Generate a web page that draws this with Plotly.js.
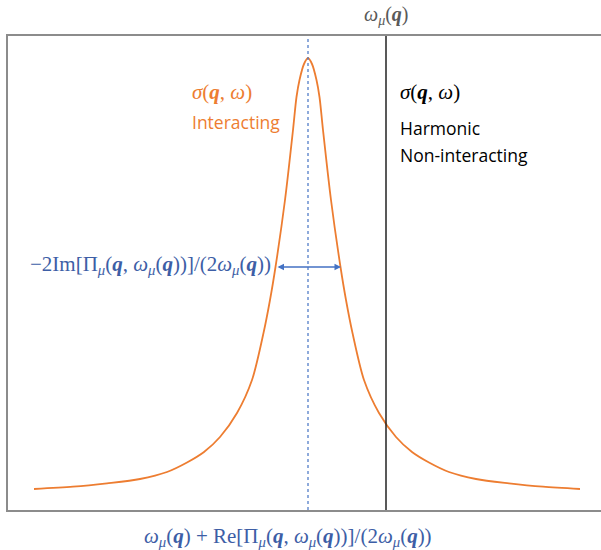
<!DOCTYPE html>
<html>
<head>
<meta charset="utf-8">
<script src="https://cdn.plot.ly/plotly-3.0.1.min.js"></script>
<style>html,body{margin:0;padding:0;background:#fff;}#chart{width:601px;height:550px;}</style>
</head>
<body>
<div id="chart"></div>
<script>
// Interacting spectral function sigma(q, w)
const freq = [26, 65, 99, 132, 159, 179, 196, 212, 229, 244, 255.5, 262, 267.5, 277, 285, 288.5, 291.5, 296, 300,
              304, 308.5, 311.5, 315, 323, 332.5, 338, 344.5, 356, 371, 388, 404, 421, 441, 468, 501, 535, 572];
const sigma = [21, 23.3, 26.7, 31, 38, 47.5, 58, 73, 97, 130, 177, 210, 243, 310, 380, 413, 430, 446, 452,
               446, 430, 413, 380, 310, 243, 210, 177, 130, 97, 73, 58, 47.5, 38, 31, 26.7, 23.3, 21];
// Harmonic (non-interacting) frequency and renormalised peak position
const harmonicFreq = 378;
const peakFreq = 300;
// Width arrow ends and its height
const widthEnds = [268, 333];
const widthLevel = 243;
const yMax = 474, xMax = 593;

const orange = '#ed7d31';
const blue = '#4472c4';
const formulaBlue = '#3d5ea6';
const serif = 'Liberation Serif, Times New Roman, serif';
const sans = 'Open Sans, Liberation Sans, sans-serif';
const q = '<b><i>q</i></b>';

const traces = [
  {x: freq, y: sigma, mode: 'lines', line: {color: orange, width: 1.8, shape: 'spline', smoothing: 0.8}, hoverinfo: 'skip'},
  {x: [harmonicFreq, harmonicFreq], y: [0, yMax], mode: 'lines', line: {color: '#222', width: 1.5}, hoverinfo: 'skip'},
  {x: [peakFreq, peakFreq], y: [0, yMax], mode: 'lines', line: {color: blue, width: 1.2, dash: 'dot'}, hoverinfo: 'skip'}
];

const layout = {
  width: 601, height: 550,
  margin: {l: 8, r: 0, t: 36, b: 40},
  paper_bgcolor: '#fff', plot_bgcolor: '#fff',
  showlegend: false,
  xaxis: {range: [0, xMax], showgrid: false, zeroline: false, showticklabels: false, ticks: '',
          showline: true, mirror: true, linecolor: '#8c8c8c', linewidth: 2, fixedrange: true},
  yaxis: {range: [0, yMax], showgrid: false, zeroline: false, showticklabels: false, ticks: '',
          showline: true, linecolor: '#8c8c8c', linewidth: 2, fixedrange: true},
  annotations: [
    {x: widthEnds[1], y: widthLevel, ax: widthEnds[0], ay: widthLevel, axref: 'x', ayref: 'y', xref: 'x', yref: 'y',
     text: '', showarrow: true, arrowhead: 2, arrowside: 'end+start', arrowsize: 1, arrowwidth: 1.3, arrowcolor: blue},
    {x: harmonicFreq, y: 1.044, xref: 'x', yref: 'paper', showarrow: false, xanchor: 'center', yanchor: 'middle',
     text: '<i>ω</i><sub><i>μ</i></sub>(' + q + ')', font: {family: serif, size: 20, color: '#595959'}},
    {x: 182, y: 418, xref: 'x', yref: 'y', showarrow: false, xanchor: 'left', yanchor: 'middle',
     text: '<i>σ</i>(' + q + ', <i>ω</i>)', font: {family: serif, size: 21, color: orange}},
    {x: 182, y: 388, xref: 'x', yref: 'y', showarrow: false, xanchor: 'left', yanchor: 'middle',
     text: 'Interacting', font: {family: sans, size: 17.5, color: orange}},
    {x: 390, y: 418, xref: 'x', yref: 'y', showarrow: false, xanchor: 'left', yanchor: 'middle',
     text: '<i>σ</i>(' + q + ', <i>ω</i>)', font: {family: serif, size: 21, color: '#000'}},
    {x: 390, y: 382, xref: 'x', yref: 'y', showarrow: false, xanchor: 'left', yanchor: 'middle',
     text: 'Harmonic', font: {family: sans, size: 17.5, color: '#000'}},
    {x: 390, y: 355, xref: 'x', yref: 'y', showarrow: false, xanchor: 'left', yanchor: 'middle',
     text: 'Non-interacting', font: {family: sans, size: 17.5, color: '#000'}},
    {x: 265, y: 245, xref: 'x', yref: 'y', showarrow: false, xanchor: 'right', yanchor: 'middle',
     text: '−2Im[Π<sub><i>μ</i></sub>(' + q + ', <i>ω</i><sub><i>μ</i></sub>(' + q + '))]/(2<i>ω</i><sub><i>μ</i></sub>(' + q + '))',
     font: {family: serif, size: 21, color: formulaBlue}},
    {x: 280, y: -0.057, xref: 'x', yref: 'paper', showarrow: false, xanchor: 'center', yanchor: 'middle',
     text: '<i>ω</i><sub><i>μ</i></sub>(' + q + ') + Re[Π<sub><i>μ</i></sub>(' + q + ', <i>ω</i><sub><i>μ</i></sub>(' + q + '))]/(2<i>ω</i><sub><i>μ</i></sub>(' + q + '))',
     font: {family: serif, size: 21, color: formulaBlue}}
  ]
};

Plotly.newPlot('chart', traces, layout, {displayModeBar: false, staticPlot: true});
</script>
</body>
</html>
